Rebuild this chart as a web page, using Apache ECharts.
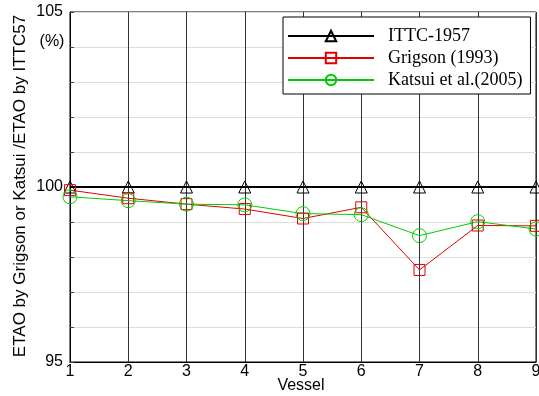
<!DOCTYPE html>
<html>
<head>
<meta charset="utf-8">
<script src="https://cdn.jsdelivr.net/npm/echarts@6/dist/echarts.min.js"></script>
<style>
  html, body { margin: 0; padding: 0; background: #fff; }
  #chart { width: 539px; height: 396px; }
</style>
</head>
<body>
<div id="chart"></div>
<script>
// Vessel numbers and efficiency ratios (%) relative to ITTC-1957
const vessels = [1, 2, 3, 4, 5, 6, 7, 8, 9];
const ittc1957 = [100, 100, 100, 100, 100, 100, 100, 100, 100];
const grigson1993 = [99.91, 99.68, 99.51, 99.37, 99.1, 99.42, 97.63, 98.9, 98.89];
const katsui2005 = [99.72, 99.61, 99.51, 99.49, 99.24, 99.21, 98.61, 99.01, 98.8];
const yTickLabels = [95, 100, 105];

const pairs = (vals) => vessels.map((v, i) => [v, vals[i]]);
const sans = 'Liberation Sans';

const chart = echarts.init(document.getElementById('chart'), null, { renderer: 'canvas' });

function lineSeries(name, vals, color, symbol, size, width) {
  return {
    name: name,
    type: 'line',
    data: pairs(vals),
    symbol: symbol,
    symbolSize: size,
    showSymbol: true,
    lineStyle: { color: color, width: width },
    itemStyle: { color: 'rgba(0,0,0,0)', borderColor: color, borderWidth: 1 },
    emphasis: { disabled: true },
    animation: false
  };
}

chart.setOption({
  animation: false,
  grid: {
    left: 70, right: 3, top: 12, bottom: 34,
    containLabel: false, outerBoundsMode: 'none',
    show: true, borderColor: '#000', borderWidth: 1
  },
  xAxis: {
    type: 'value', min: 1, max: 9, interval: 1,
    axisLine: { lineStyle: { color: '#000', width: 1 } },
    axisTick: { show: false },
    splitLine: { show: true, lineStyle: { color: '#333', width: 1 } },
    axisLabel: { color: '#000', fontFamily: sans, fontSize: 16, margin: 2 }
  },
  yAxis: {
    type: 'value', min: 95, max: 105, interval: 1,
    axisLine: { show: true, lineStyle: { color: '#000', width: 1 } },
    axisTick: { show: true, inside: true, length: 4, lineStyle: { color: '#444' } },
    splitLine: { show: true, lineStyle: { color: '#dcdcdc', width: 1 } },
    axisLabel: {
      color: '#000', fontFamily: sans, fontSize: 16, margin: 7,
      formatter: (v) => yTickLabels.includes(v) ? String(v) : ''
    }
  },
  legend: {
    left: 283, top: 17,
    orient: 'vertical',
    backgroundColor: '#fff',
    borderColor: '#000', borderWidth: 1,
    padding: [10, 8, 5, 4],
    itemGap: 4,
    itemWidth: 86, itemHeight: 13,
    textStyle: { fontFamily: 'Liberation Serif', fontSize: 18, color: '#000', padding: [0, 0, 0, 9] },
    data: ['ITTC-1957', 'Grigson (1993)', 'Katsui et al.(2005)']
  },
  graphic: [
    {
      type: 'text',
      x: 20, y: 186, rotation: Math.PI / 2,
      style: {
        text: 'ETAO by Grigson or Katsui /ETAO by ITTC57',
        fontFamily: sans, fontSize: 17, fill: '#000',
        textAlign: 'center', textVerticalAlign: 'middle'
      }
    },
    {
      type: 'text', x: 52, y: 42,
      style: { text: '(%)', fontFamily: sans, fontSize: 16, fill: '#000', textAlign: 'center', textVerticalAlign: 'middle' }
    },
    {
      type: 'text', x: 301, y: 386,
      style: { text: 'Vessel', fontFamily: sans, fontSize: 16, fill: '#000', textAlign: 'center', textVerticalAlign: 'middle' }
    }
  ],
  series: [
    lineSeries('ITTC-1957', ittc1957, '#000', 'triangle', 12, 2),
    lineSeries('Grigson (1993)', grigson1993, '#e00000', 'rect', 11, 1),
    lineSeries('Katsui et al.(2005)', katsui2005, '#00cc00', 'circle', 14, 1)
  ]
});
</script>
</body>
</html>
